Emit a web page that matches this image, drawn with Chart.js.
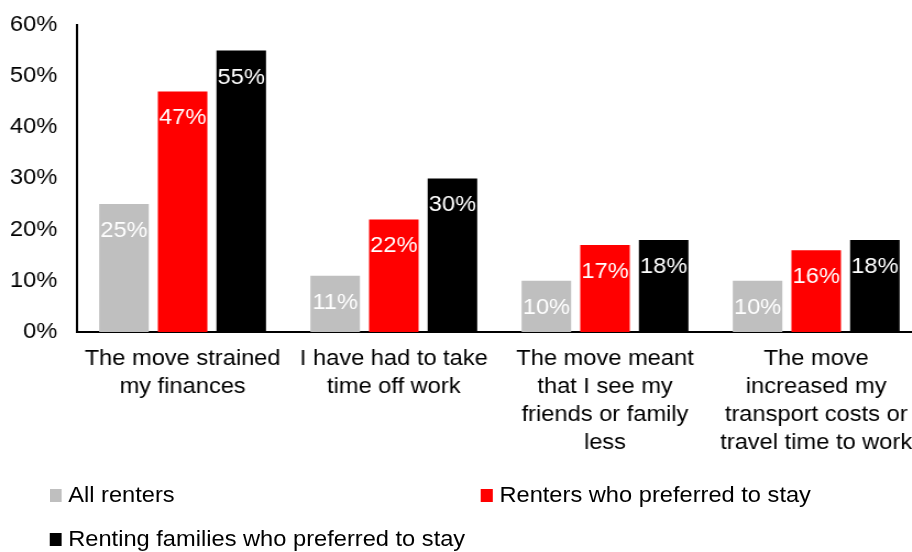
<!DOCTYPE html>
<html>
<head>
<meta charset="utf-8">
<script src="https://cdn.jsdelivr.net/npm/chart.js@4"></script>
<style>
  html, body { margin: 0; padding: 0; background: #fff; overflow: hidden; }
  /* the chart is laid out narrow and stretched sideways, like the exported figure */
  #wrap { position: relative; width: 838px; height: 552px; transform: scaleX(1.1); transform-origin: 0 0; }
  #chart { position: absolute; left: 0; top: 0; }
  .item { position: absolute; display: flex; align-items: center; white-space: nowrap;
          font-family: "Liberation Sans", Arial, sans-serif; font-size: 21.5px; color: #000; line-height: 26px; }
  .box { width: 11px; height: 13px; margin-right: 6px; }
</style>
</head>
<body>
<div id="wrap">
  <canvas id="chart" width="838" height="552"></canvas>
  <div id="legend"></div>
</div>
<script>
var categories = [
  ['The move strained', 'my finances'],
  ['I have had to take', 'time off work'],
  ['The move meant', 'that I see my', 'friends or family', 'less'],
  ['The move', 'increased my', 'transport costs or', 'travel time to work']
];
var seriesNames = ['All renters', 'Renters who preferred to stay', 'Renting families who preferred to stay'];
var allRenters = [25, 11, 10, 10];
var preferredToStay = [47, 22, 17, 16];
var familiesPreferredToStay = [55, 30, 18, 18];
var yTicks = [0, 10, 20, 30, 40, 50, 60];

var colors = ['#bfbfbf', '#ff0000', '#000000'];
var FONT = '"Liberation Sans", Arial, sans-serif';
var FONT_SIZE = 21.5;

// white value labels just inside the top of each bar
var barLabels = {
  id: 'barLabels',
  afterDatasetsDraw: function(chart) {
    var ctx = chart.ctx;
    ctx.save();
    ctx.font = FONT_SIZE + 'px ' + FONT;
    ctx.fillStyle = '#ffffff';
    ctx.textAlign = 'center';
    ctx.textBaseline = 'middle';
    chart.data.datasets.forEach(function(ds, i) {
      chart.getDatasetMeta(i).data.forEach(function(bar, j) {
        ctx.fillText(ds.data[j] + '%', bar.x, bar.y + 27);
      });
    });
    ctx.restore();
  }
};

var series = [allRenters, preferredToStay, familiesPreferredToStay];
var datasets = series.map(function(values, i) {
  return {
    label: seriesNames[i],
    data: values,
    backgroundColor: colors[i],
    borderWidth: 0,
    categoryPercentage: 0.833,
    barPercentage: 0.845
  };
});

new Chart(document.getElementById('chart'), {
  type: 'bar',
  data: { labels: categories, datasets: datasets },
  plugins: [barLabels],
  options: {
    responsive: false,
    animation: false,
    layout: { padding: { top: 25, left: 0, right: 0, bottom: 0 } },
    plugins: { legend: { display: false }, tooltip: { enabled: false } },
    scales: {
      x: {
        grid: { display: false, drawTicks: false },
        border: { display: true, color: '#000', width: 2 },
        ticks: {
          color: '#000',
          font: { family: FONT, size: FONT_SIZE, lineHeight: 28 / FONT_SIZE },
          padding: 13,
          maxRotation: 0,
          autoSkip: false
        },
        afterFit: function(scale) {
          scale.height = 220;
          scale.paddingLeft = 0;
          scale.paddingRight = 0;
        }
      },
      y: {
        min: 0,
        max: 60,
        grid: { display: false, drawTicks: false },
        border: { display: true, color: '#000', width: 2 },
        ticks: {
          color: '#000',
          font: { family: FONT, size: FONT_SIZE },
          padding: 18,
          callback: function(v) { return v + '%'; }
        },
        afterBuildTicks: function(axis) {
          axis.ticks = yTicks.map(function(v) { return { value: v }; });
        },
        afterFit: function(scale) {
          scale.width = 70;
          scale.paddingTop = 0;
          scale.paddingBottom = 0;
        }
      }
    }
  }
});

// legend: two entries on the first row, one on the second
var legendSpots = [[45, 495], [437, 495], [45, 539]];
var legend = document.getElementById('legend');
seriesNames.forEach(function(name, i) {
  var item = document.createElement('div');
  item.className = 'item';
  item.style.left = legendSpots[i][0] + 'px';
  item.style.top = (legendSpots[i][1] - 13) + 'px';
  var box = document.createElement('span');
  box.className = 'box';
  box.style.background = colors[i];
  item.appendChild(box);
  item.appendChild(document.createTextNode(name));
  legend.appendChild(item);
});
</script>
</body>
</html>
